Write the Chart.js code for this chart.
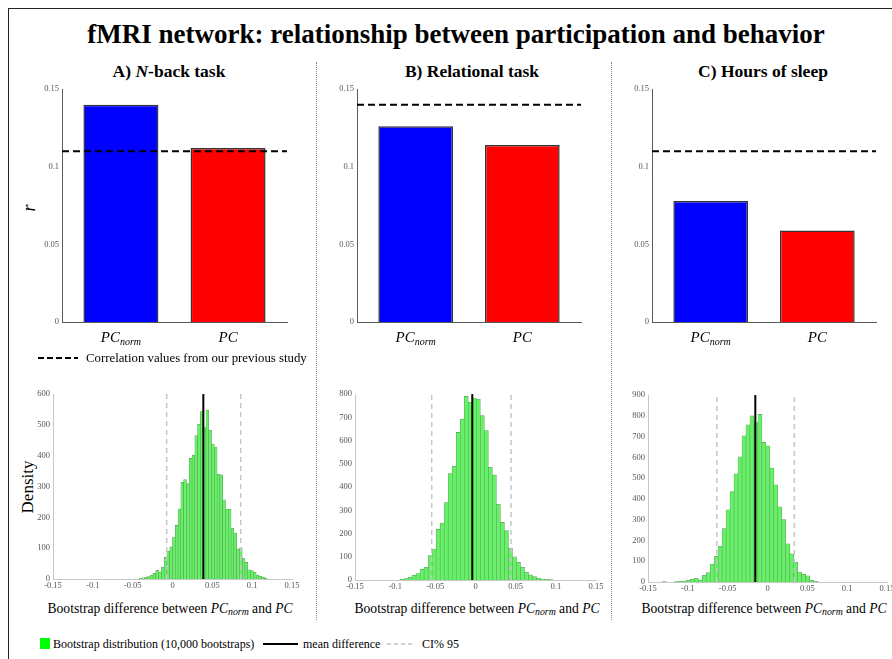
<!DOCTYPE html>
<html>
<head>
<meta charset="utf-8">
<title>fMRI network: relationship between participation and behavior</title>
<script src="https://cdn.jsdelivr.net/npm/chart.js@4.4.0/dist/chart.umd.min.js"></script>
<style>
  html, body { margin: 0; padding: 0; background: #fff; overflow: hidden; }
  body { width: 892px; height: 659px; position: relative; font-family: "Liberation Serif", "Times New Roman", serif; color: #000; }
  .abs { position: absolute; white-space: nowrap; line-height: 1; }
  canvas { position: absolute; }
  .frame-top { position: absolute; left: 8px; top: 8px; width: 884px; border-top: 1.5px solid #222; }
  .frame-left { position: absolute; left: 8px; top: 8px; height: 651px; border-left: 1.5px solid #222; }
  .sep { position: absolute; top: 62px; height: 558px; border-left: 1px dotted #888; }
  .title { font-size: 27px; font-weight: bold; }
  .panel-title { font-size: 17.5px; font-weight: bold; transform: translateX(-50%); }
  .axis-label { transform: translate(-50%, -50%) rotate(-90deg); }
  .xlabel { font-size: 13.6px; transform: translateX(-50%); }
  .legend { font-size: 12px; }
  sub { font-size: 0.72em; vertical-align: -0.25em; line-height: 0; }
</style>
</head>
<body>
<div class="frame-top"></div>
<div class="frame-left"></div>
<div class="sep" style="left:316px"></div>
<div class="sep" style="left:611px"></div>

<div class="abs title" style="left:456px; top:21px; transform:translateX(-50%)">fMRI network: relationship between participation and behavior</div>

<div class="abs panel-title" style="left:169px; top:63px">A) <i>N</i>-back task</div>
<div class="abs panel-title" style="left:472px; top:63px">B) Relational task</div>
<div class="abs panel-title" style="left:763px; top:63px">C) Hours of sleep</div>

<div class="abs axis-label" style="left:29px; top:208px; font-size:18px"><i>r</i></div>
<div class="abs axis-label" style="left:27px; top:487px; font-size:17px">Density</div>

<canvas id="barA"></canvas>
<canvas id="barB"></canvas>
<canvas id="barC"></canvas>
<canvas id="histA"></canvas>
<canvas id="histB"></canvas>
<canvas id="histC"></canvas>

<!-- legend for the dashed reference line -->
<svg class="abs" style="left:38px; top:354px" width="40" height="8">
  <line x1="0" y1="4" x2="40" y2="4" stroke="#000" stroke-width="2" stroke-dasharray="6,3"></line>
</svg>
<div class="abs legend" style="left:86px; top:352px; font-size:12.8px">Correlation values from our previous study</div>

<div class="abs xlabel" style="left:170px; top:602px">Bootstrap difference between <i>PC<sub>norm</sub></i> and <i>PC</i></div>
<div class="abs xlabel" style="left:477px; top:602px">Bootstrap difference between <i>PC<sub>norm</sub></i> and <i>PC</i></div>
<div class="abs xlabel" style="left:764px; top:602px">Bootstrap difference between <i>PC<sub>norm</sub></i> and <i>PC</i></div>

<!-- legend for the bootstrap panels -->
<div class="abs" style="left:40px; top:638px; width:10px; height:11px; background:#00ff00"></div>
<div class="abs legend" style="left:53px; top:638px">Bootstrap distribution (10,000 bootstraps)</div>
<svg class="abs" style="left:263px; top:640px" width="35" height="8">
  <line x1="0" y1="4" x2="35" y2="4" stroke="#000" stroke-width="2"></line>
</svg>
<div class="abs legend" style="left:303px; top:638px">mean difference</div>
<svg class="abs" style="left:387px; top:640px" width="28" height="8">
  <line x1="0" y1="4" x2="28" y2="4" stroke="#c4c4c4" stroke-width="1.5" stroke-dasharray="4,3"></line>
</svg>
<div class="abs legend" style="left:422px; top:638px">CI% 95</div>

<script>
// ---- correlation values (r) per behavioural measure ----
const barLabelMain = ['PC', 'PC'];
const barLabelSub = ['norm', ''];
const nbackR = [0.14, 0.112];
const relationalR = [0.126, 0.114];
const sleepR = [0.078, 0.059];
// r reported by the earlier study, one per measure
const previousR = [0.11, 0.14, 0.11];
const rTickStep = 0.05;
const rMax = 0.15;

// ---- bootstrap distributions of r(PCnorm) - r(PC) ----
const nbackBinStart = -0.042;
const nbackBinWidth = 0.0035;
const nbackCounts = [2, 4, 6, 8, 12, 18, 28, 23, 38, 70, 90, 104, 136, 174, 228, 314, 323, 310, 392, 402,
  465, 502, 543, 491, 548, 483, 438, 428, 340, 338, 257, 227, 226, 165, 149, 97, 100, 68, 54, 30,
  27, 22, 12, 9, 6, 3];
const nbackMean = 0.0387;
const nbackCI = [-0.0073, 0.0856];

const relationalBinStart = -0.094;
const relationalBinWidth = 0.005;
const relationalCounts = [3, 6, 12, 20, 28, 46, 55, 105, 133, 218, 245, 333, 458, 490, 635, 692, 790, 765,
  783, 778, 708, 643, 485, 452, 326, 248, 213, 137, 100, 76, 55, 33, 22, 15, 8, 4, 3, 2];
const relationalMean = -0.004;
const relationalCI = [-0.0545, 0.0442];

const sleepBinStart = -0.132;
const sleepBinWidth = 0.005;
const sleepCounts = [2, 0, 0, 2, 3, 5, 8, 13, 18, 10, 32, 45, 85, 124, 172, 257, 348, 436, 521, 603,
  704, 757, 800, 768, 807, 672, 656, 549, 468, 362, 300, 184, 136, 95, 48, 37, 30, 8, 3];
const sleepMean = -0.0153;
const sleepCI = [-0.0636, 0.0336];

const diffMin = -0.15, diffMax = 0.15, diffStep = 0.05;

// ---- layout: plot-area rectangles in page pixels ----
const layout = {
  barA: { l: 62, t: 89, r: 287, b: 322 },
  barB: { l: 357, t: 89, r: 581, b: 322 },
  barC: { l: 652, t: 89, r: 876, b: 322 },
  histA: { l: 53, t: 394, r: 292, b: 579 },
  histB: { l: 355, t: 394, r: 596, b: 580 },
  histC: { l: 648, t: 395, r: 887, b: 582 }
};
const BAR_X_MIN = 0.45, BAR_X_MAX = 2.55;
const barFill = ['#0000ff', '#ff0000'];
const SERIF = '"Liberation Serif", "Times New Roman", serif';

Chart.defaults.font.family = SERIF;
Chart.defaults.color = '#555';

function placeCanvas(id, area, m) {
  const c = document.getElementById(id);
  const w = area.r - area.l + m.left + m.right;
  const h = area.b - area.t + m.top + m.bottom;
  c.width = w; c.height = h;
  c.style.left = (area.l - m.left) + 'px';
  c.style.top = (area.t - m.top) + 'px';
  c.style.width = w + 'px';
  c.style.height = h + 'px';
  return c;
}

const fmt = v => {
  const r = Math.round(v * 1000) / 1000;
  return r === 0 ? '0' : String(r);
};

// Italic category labels with a subscript, placed at each bar's scale position
const pcLabelPlugin = {
  id: 'pcLabels',
  afterDraw(chart, args, opts) {
    const xs = chart.scales.x;
    const ctx = chart.ctx;
    const y = chart.chartArea.bottom + opts.gap;
    ctx.save();
    ctx.fillStyle = '#000';
    ctx.textBaseline = 'alphabetic';
    barLabelMain.forEach((main, i) => {
      const sub = barLabelSub[i];
      const cx = xs.getPixelForValue(i + 1);
      ctx.font = 'italic ' + opts.size + 'px ' + SERIF;
      const wMain = ctx.measureText(main).width;
      ctx.font = 'italic ' + opts.subSize + 'px ' + SERIF;
      const wSub = sub ? ctx.measureText(sub).width : 0;
      let x = cx - (wMain + wSub) / 2;
      ctx.font = 'italic ' + opts.size + 'px ' + SERIF;
      ctx.fillText(main, x, y);
      if (sub) {
        ctx.font = 'italic ' + opts.subSize + 'px ' + SERIF;
        ctx.fillText(sub, x + wMain, y + opts.subDrop);
      }
    });
    ctx.restore();
  }
};

function drawCorrelationPanel(id, values, previous) {
  const m = { left: 30, top: 8, right: 12, bottom: 30 };
  const canvas = placeCanvas(id, layout[id], m);
  return new Chart(canvas, {
    type: 'bar',
    data: {
      datasets: [
        {
          type: 'line',
          data: [{ x: BAR_X_MIN, y: previous }, { x: BAR_X_MAX, y: previous }],
          borderColor: '#000', borderWidth: 2, borderDash: [7, 4],
          pointRadius: 0, pointHoverRadius: 0, order: 0
        },
        {
          type: 'bar',
          data: values.map((v, i) => ({ x: i + 1, y: v })),
          backgroundColor: barFill, borderColor: '#333', borderWidth: 1.5,
          barPercentage: 0.7, categoryPercentage: 1, order: 1
        }
      ]
    },
    options: {
      responsive: false, animation: false, devicePixelRatio: 1,
      layout: { padding: { left: 0, top: m.top, right: m.right, bottom: 0 } },
      plugins: {
        legend: { display: false }, tooltip: { enabled: false },
        pcLabels: { gap: 20, size: 15, subSize: 10, subDrop: 2.5 }
      },
      scales: {
        x: {
          type: 'linear', min: BAR_X_MIN, max: BAR_X_MAX, offset: false,
          grid: { display: false, drawTicks: false },
          border: { display: true, color: '#5a5a5a', width: 1 },
          ticks: { display: false },
          afterBuildTicks: s => { s.ticks = barLabelMain.map((_, i) => ({ value: i + 1 })); },
          afterFit: s => { s.height = m.bottom; }
        },
        y: {
          min: 0, max: rMax,
          grid: { display: false, drawTicks: false },
          border: { display: true, color: '#5a5a5a', width: 1 },
          ticks: { stepSize: rTickStep, font: { size: 8.5 }, color: '#555', padding: 3, callback: fmt },
          afterFit: s => { s.width = m.left; }
        }
      }
    },
    plugins: [pcLabelPlugin]
  });
}

function drawBootstrapPanel(id, binStart, binWidth, counts, yMax, meanDiff, ci) {
  const m = { left: 30, top: 8, right: 18, bottom: 14 };
  const canvas = placeCanvas(id, layout[id], m);
  const bins = counts.map((c, i) => ({ x: binStart + binWidth * (i + 0.5), y: c }));
  const vline = x => [{ x: x, y: 0 }, { x: x, y: yMax }];
  const ciStyle = {
    type: 'line', borderColor: '#c6c6c6', borderWidth: 1.5, borderDash: [5, 4],
    pointRadius: 0, pointHoverRadius: 0, order: 0
  };
  return new Chart(canvas, {
    type: 'bar',
    data: {
      datasets: [
        Object.assign({ data: vline(ci[0]) }, ciStyle),
        Object.assign({ data: vline(ci[1]) }, ciStyle),
        {
          type: 'line', data: vline(meanDiff),
          borderColor: '#000', borderWidth: 2, pointRadius: 0, pointHoverRadius: 0, order: 0
        },
        {
          type: 'bar', data: bins,
          backgroundColor: '#66f266', borderColor: '#5e9e5e', borderWidth: 0.6,
          barPercentage: 1, categoryPercentage: 1, order: 1
        }
      ]
    },
    options: {
      responsive: false, animation: false, devicePixelRatio: 1,
      layout: { padding: { left: 0, top: m.top, right: m.right, bottom: 0 } },
      plugins: { legend: { display: false }, tooltip: { enabled: false } },
      scales: {
        x: {
          type: 'linear', min: diffMin, max: diffMax, offset: false,
          grid: { display: false, drawTicks: false },
          border: { display: true, color: '#c8c8c8', width: 1 },
          ticks: { stepSize: diffStep, autoSkip: false, maxRotation: 0, font: { size: 8.5 }, color: '#555', padding: 2, callback: fmt },
          afterFit: s => { s.height = m.bottom; }
        },
        y: {
          min: 0, max: yMax,
          grid: { display: false, drawTicks: false },
          border: { display: true, color: '#c8c8c8', width: 1 },
          ticks: { stepSize: 100, font: { size: 8.5 }, color: '#555', padding: 3 },
          afterFit: s => { s.width = m.left; }
        }
      }
    }
  });
}

drawCorrelationPanel('barA', nbackR, previousR[0]);
drawCorrelationPanel('barB', relationalR, previousR[1]);
drawCorrelationPanel('barC', sleepR, previousR[2]);

drawBootstrapPanel('histA', nbackBinStart, nbackBinWidth, nbackCounts, 600, nbackMean, nbackCI);
drawBootstrapPanel('histB', relationalBinStart, relationalBinWidth, relationalCounts, 800, relationalMean, relationalCI);
drawBootstrapPanel('histC', sleepBinStart, sleepBinWidth, sleepCounts, 900, sleepMean, sleepCI);
</script>
</body>
</html>
